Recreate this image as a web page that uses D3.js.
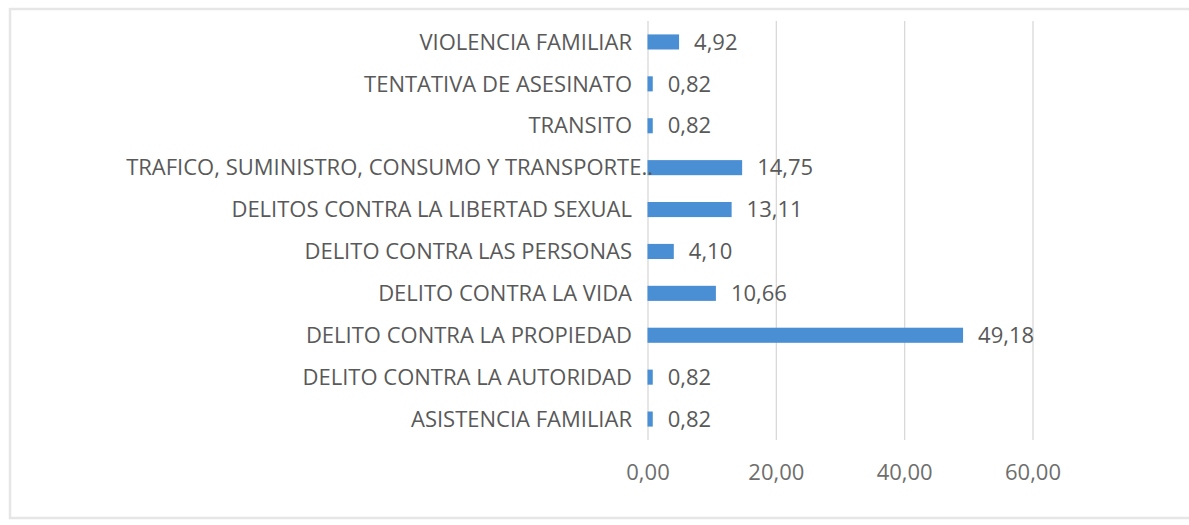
<!DOCTYPE html>
<html>
<head>
<meta charset="utf-8">
<script src="https://cdn.jsdelivr.net/npm/d3@7"></script>
<style>
  html, body { margin: 0; padding: 0; background: #ffffff; }
  svg { display: block; }
  text { font-family: "Open Sans", "Noto Sans", sans-serif; fill: #595959; }
</style>
</head>
<body>
<script>
// Data (top to bottom as shown)
const categories = [
  "VIOLENCIA FAMILIAR",
  "TENTATIVA DE ASESINATO",
  "TRANSITO",
  "TRAFICO, SUMINISTRO, CONSUMO Y TRANSPORTE..",
  "DELITOS CONTRA LA LIBERTAD SEXUAL",
  "DELITO CONTRA LAS PERSONAS",
  "DELITO CONTRA LA VIDA",
  "DELITO CONTRA LA PROPIEDAD",
  "DELITO CONTRA LA AUTORIDAD",
  "ASISTENCIA FAMILIAR"
];
const values = [4.92, 0.82, 0.82, 14.75, 13.11, 4.10, 10.66, 49.18, 0.82, 0.82];
const tickValues = [0, 20, 40, 60];

const W = 1189, H = 525;
const fontSize = 22;
const fmt = v => d3.format(".2f")(v).replace(".", ",");

const svg = d3.select("body").append("svg")
  .attr("width", W).attr("height", H);

// Outer frame
svg.append("rect")
  .attr("x", 10).attr("y", 9)
  .attr("width", W + 10).attr("height", 509)
  .attr("fill", "none")
  .attr("stroke", "#e6e6e6")
  .attr("stroke-width", 2.5);

const x = d3.scaleLinear().domain([0, 60]).range([647.5, 1032.5]);
const y = d3.scaleBand().domain(categories).range([21, 440]).paddingInner(0.64).paddingOuter(0.32);

// Gridlines + tick labels
const xAxis = d3.axisBottom(x)
  .tickValues(tickValues)
  .tickFormat(fmt)
  .tickSizeInner(-(440 - 21))
  .tickSizeOuter(0)
  .tickPadding(24);

const gx = svg.append("g")
  .attr("transform", "translate(0,440)")
  .call(xAxis);
gx.select(".domain").remove();
gx.selectAll(".tick line").attr("stroke", "#d9d9d9").attr("stroke-width", 1.3);
gx.selectAll(".tick text")
  .attr("font-size", fontSize)
  .attr("fill", "#6e6e6e")
  .style("fill", "#6e6e6e")
  .style("font-family", '"Open Sans", "Noto Sans", sans-serif');

// Bars
svg.append("g").selectAll("rect")
  .data(values)
  .join("rect")
  .attr("x", x(0))
  .attr("y", (d, i) => y(categories[i]))
  .attr("width", d => x(d) - x(0))
  .attr("height", y.bandwidth())
  .attr("fill", "#4a8fd3");

// Category labels
svg.append("g").selectAll("text")
  .data(categories)
  .join("text")
  .attr("x", (d, i) => i === 3 ? 653 : 632)
  .attr("y", d => y(d) + y.bandwidth() / 2)
  .attr("dy", "0.35em")
  .attr("text-anchor", "end")
  .attr("font-size", fontSize)
  .text(d => d);

// Value labels
svg.append("g").selectAll("text")
  .data(values)
  .join("text")
  .attr("x", d => x(d) + 15)
  .attr("y", (d, i) => y(categories[i]) + y.bandwidth() / 2)
  .attr("dy", "0.35em")
  .attr("font-size", fontSize)
  .text(d => fmt(d));
</script>
</body>
</html>
